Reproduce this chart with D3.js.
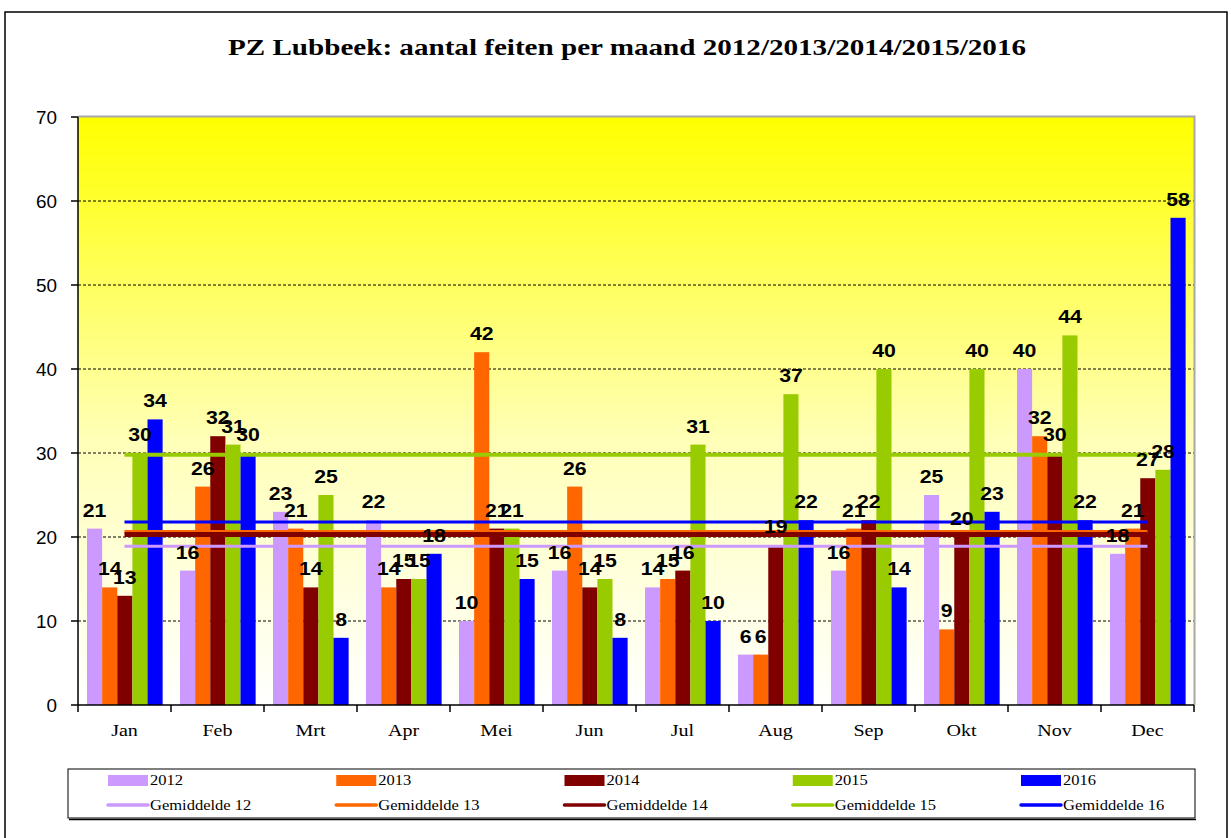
<!DOCTYPE html>
<html>
<head>
<meta charset="utf-8">
<title>PZ Lubbeek</title>
<script src="https://cdn.jsdelivr.net/npm/d3@7/dist/d3.min.js"></script>
<style>
    html, body { margin: 0; padding: 0; background: #fff; }
    svg { display: block; }
    .bar-label { font-family: Arial, "Liberation Sans", sans-serif; font-weight: bold; font-size: 19px; fill: #000; }
    .y-label { font-family: Arial, "Liberation Sans", sans-serif; font-size: 18px; fill: #000; }
    .x-label { font-family: "Times New Roman", "Liberation Serif", serif; font-size: 17px; fill: #000; }
    .legend-label { font-family: "Times New Roman", "Liberation Serif", serif; font-size: 14px; fill: #000; }
    .chart-title { font-family: "Times New Roman", "Liberation Serif", serif; font-weight: bold; font-size: 24px; fill: #000; }
</style>
</head>
<body>
<div id="chart"></div>
<script>
// maanden / categories
const MONTHS = ['Jan', 'Feb', 'Mrt', 'Apr', 'Mei', 'Jun', 'Jul', 'Aug', 'Sep', 'Okt', 'Nov', 'Dec'];

// jaren / series names
const YEARS = ['2012', '2013', '2014', '2015', '2016'];

// aantal feiten per maand, per jaar
const VALUES_2012 = [21, 16, 23, 22, 10, 16, 14, 6, 16, 25, 40, 18];
const VALUES_2013 = [14, 26, 21, 14, 42, 26, 15, 6, 21, 9, 32, 21];
const VALUES_2014 = [13, 32, 14, 15, 21, 14, 16, 19, 22, 20, 30, 27];
const VALUES_2015 = [30, 31, 25, 15, 21, 15, 31, 37, 40, 40, 44, 28];
const VALUES_2016 = [34, 30, 8, 18, 15, 8, 10, 22, 14, 23, 22, 58];

const AVERAGES = [18.9, 20.6, 20.3, 29.8, 21.8];
const AVERAGE_NAMES = ['Gemiddelde 12', 'Gemiddelde 13', 'Gemiddelde 14', 'Gemiddelde 15', 'Gemiddelde 16'];

// y-as ticks
const Y_TICKS = [0, 10, 20, 30, 40, 50, 60, 70];

const TITLE = 'PZ Lubbeek: aantal feiten per maand 2012/2013/2014/2015/2016';

(function () {
    'use strict';

    const CFG = {
        width: 1231,
        height: 838,
        plotLeft: 78,
        plotRight: 1194,
        plotTop: 117,
        plotBottom: 705,
        textStretch: 1.18   // de bron is horizontaal uitgerekt
    };

    const COLORS = ['#CC99FF', '#FF6600', '#800000', '#99CC00', '#0000FF'];
    const LINE_WIDTHS = [3, 4, 5, 4, 3];

    const series = [VALUES_2012, VALUES_2013, VALUES_2014, VALUES_2015, VALUES_2016];

    const svg = d3.select('#chart')
        .append('svg')
        .attr('width', CFG.width)
        .attr('height', CFG.height);

    /**
     * tekst plaatsen met horizontale rek
     */
    function addText(parent, cls, x, y, anchor, txt, sx) {
        return parent.append('text')
            .attr('class', cls)
            .attr('transform', 'translate(' + x + ',' + y + ') scale(' + (sx || CFG.textStretch) + ',1)')
            .attr('text-anchor', anchor)
            .text(txt);
    }

    // achtergrond verloop / plot gradient
    const defs = svg.append('defs');
    const grad = defs.append('linearGradient')
        .attr('id', 'plotGrad')
        .attr('x1', 0).attr('y1', 0).attr('x2', 0).attr('y2', 1);
    grad.append('stop').attr('offset', '0%').attr('stop-color', '#FFFF00');
    grad.append('stop').attr('offset', '55%').attr('stop-color', '#FFFFB8');
    grad.append('stop').attr('offset', '100%').attr('stop-color', '#FFFFFF');

    // buitenkader / outer frame
    svg.append('rect')
        .attr('x', 5).attr('y', 12)
        .attr('width', 1222).attr('height', 840)
        .attr('fill', '#fff')
        .attr('stroke', '#000')
        .attr('stroke-width', 1.5);

    // titel
    svg.append('text')
        .attr('class', 'chart-title')
        .attr('x', 627)
        .attr('y', 55)
        .attr('text-anchor', 'middle')
        .attr('textLength', 798)
        .attr('lengthAdjust', 'spacingAndGlyphs')
        .text(TITLE);

    const x = d3.scaleBand()
        .domain(MONTHS)
        .range([CFG.plotLeft, CFG.plotRight])
        .paddingInner(0)
        .paddingOuter(0);

    const bw = x.bandwidth();
    const xInner = d3.scaleBand()
        .domain(YEARS)
        .range([bw * 0.097, bw * 0.91]);

    const y = d3.scaleLinear()
        .domain([0, 70])
        .range([CFG.plotBottom, CFG.plotTop]);

    // plotvlak
    svg.append('rect')
        .attr('x', CFG.plotLeft)
        .attr('y', CFG.plotTop)
        .attr('width', CFG.plotRight - CFG.plotLeft)
        .attr('height', CFG.plotBottom - CFG.plotTop)
        .attr('fill', 'url(#plotGrad)');

    // rasterlijnen / gridlines
    svg.append('g')
        .selectAll('line')
        .data(Y_TICKS.filter(function (t) { return t > 0 && t < 70; }))
        .enter()
        .append('line')
        .attr('x1', CFG.plotLeft)
        .attr('x2', CFG.plotRight)
        .attr('y1', function (d) { return y(d); })
        .attr('y2', function (d) { return y(d); })
        .attr('stroke', '#000')
        .attr('stroke-width', 1)
        .attr('stroke-dasharray', '3,2');

    // grijze rand boven/rechts
    svg.append('path')
        .attr('d', 'M' + CFG.plotLeft + ',' + (CFG.plotTop - 0.5) +
            'H' + (CFG.plotRight + 0.5) + 'V' + CFG.plotBottom)
        .attr('fill', 'none')
        .attr('stroke', '#A8A8A8')
        .attr('stroke-width', 2);

    function rowFor(m, i) {
        return YEARS.map(function (yr, k) {
            return { year: yr, k: k, value: series[k][i] };
        });
    }

    // staven / bars
    const groups = svg.append('g')
        .selectAll('g')
        .data(MONTHS)
        .enter()
        .append('g')
        .attr('transform', function (m) { return 'translate(' + x(m) + ',0)'; });

    groups.selectAll('rect')
        .data(rowFor)
        .enter()
        .append('rect')
        .attr('x', function (d) { return xInner(d.year); })
        .attr('width', xInner.bandwidth())
        .attr('y', function (d) { return y(d.value); })
        .attr('height', function (d) { return y(0) - y(d.value); })
        .attr('fill', function (d) { return COLORS[d.k]; });

    // gemiddelde lijnen / average lines
    const lineGroup = svg.append('g');
    AVERAGES.forEach(function (avg, k) {
        const pts = MONTHS.map(function (m) { return [x(m) + bw / 2, y(avg)]; });
        lineGroup.append('path')
            .attr('d', d3.line()(pts))
            .attr('fill', 'none')
            .attr('stroke', COLORS[k])
            .attr('stroke-width', LINE_WIDTHS[k]);
    });

    // y-as
    const yAxis = svg.append('g');
    yAxis.append('line')
        .attr('x1', CFG.plotLeft).attr('x2', CFG.plotLeft)
        .attr('y1', CFG.plotTop).attr('y2', CFG.plotBottom)
        .attr('stroke', '#000').attr('stroke-width', 1.5);
    Y_TICKS.forEach(function (t) {
        yAxis.append('line')
            .attr('x1', CFG.plotLeft - 7).attr('x2', CFG.plotLeft)
            .attr('y1', y(t)).attr('y2', y(t))
            .attr('stroke', '#000').attr('stroke-width', 1.5);
        addText(yAxis, 'y-label', 57, y(t) + 6.5, 'end', t, 1.05);
    });

    // x-as
    const xAxis = svg.append('g');
    xAxis.append('line')
        .attr('x1', CFG.plotLeft).attr('x2', CFG.plotRight)
        .attr('y1', CFG.plotBottom).attr('y2', CFG.plotBottom)
        .attr('stroke', '#000').attr('stroke-width', 1.5);
    MONTHS.concat(['end']).forEach(function (m, i) {
        const xx = i < MONTHS.length ? x(m) : CFG.plotRight;
        xAxis.append('line')
            .attr('x1', xx).attr('x2', xx)
            .attr('y1', CFG.plotBottom).attr('y2', CFG.plotBottom + 7)
            .attr('stroke', '#000').attr('stroke-width', 1.5);
    });
    MONTHS.forEach(function (m) {
        addText(xAxis, 'x-label', x(m) + bw / 2, 736, 'middle', m);
    });

    // waardelabels / data labels (bovenop de lijnen)
    const labelLayer = svg.append('g');
    MONTHS.forEach(function (m, i) {
        rowFor(m, i).forEach(function (d) {
            addText(labelLayer, 'bar-label',
                x(m) + xInner(d.year) + xInner.bandwidth() / 2,
                y(d.value) - 12,
                'middle', d.value, 1.12);
        });
    });

    // legende
    const legend = svg.append('g');
    legend.append('rect')
        .attr('x', 68).attr('y', 769)
        .attr('width', 1127).attr('height', 49)
        .attr('fill', '#fff')
        .attr('stroke', '#000')
        .attr('stroke-width', 1);
    legend.append('line')
        .attr('x1', 69).attr('x2', 1196)
        .attr('y1', 819.5).attr('y2', 819.5)
        .attr('stroke', '#000').attr('stroke-width', 1.5);

    const colX = d3.scalePoint()
        .domain(YEARS)
        .range([108, 1021]);

    YEARS.forEach(function (yr, k) {
        const lx = colX(yr);
        legend.append('rect')
            .attr('x', lx).attr('y', 775)
            .attr('width', 40).attr('height', 11)
            .attr('fill', COLORS[k]);
        addText(legend, 'legend-label', lx + 42, 785, 'start', yr);
        legend.append('line')
            .attr('x1', lx).attr('x2', lx + 40)
            .attr('y1', 805).attr('y2', 805)
            .attr('stroke', COLORS[k])
            .attr('stroke-width', 3.5)
            .attr('stroke-linecap', 'round');
        addText(legend, 'legend-label', lx + 42, 810, 'start', AVERAGE_NAMES[k]);
    });
})();
</script>
</body>
</html>
